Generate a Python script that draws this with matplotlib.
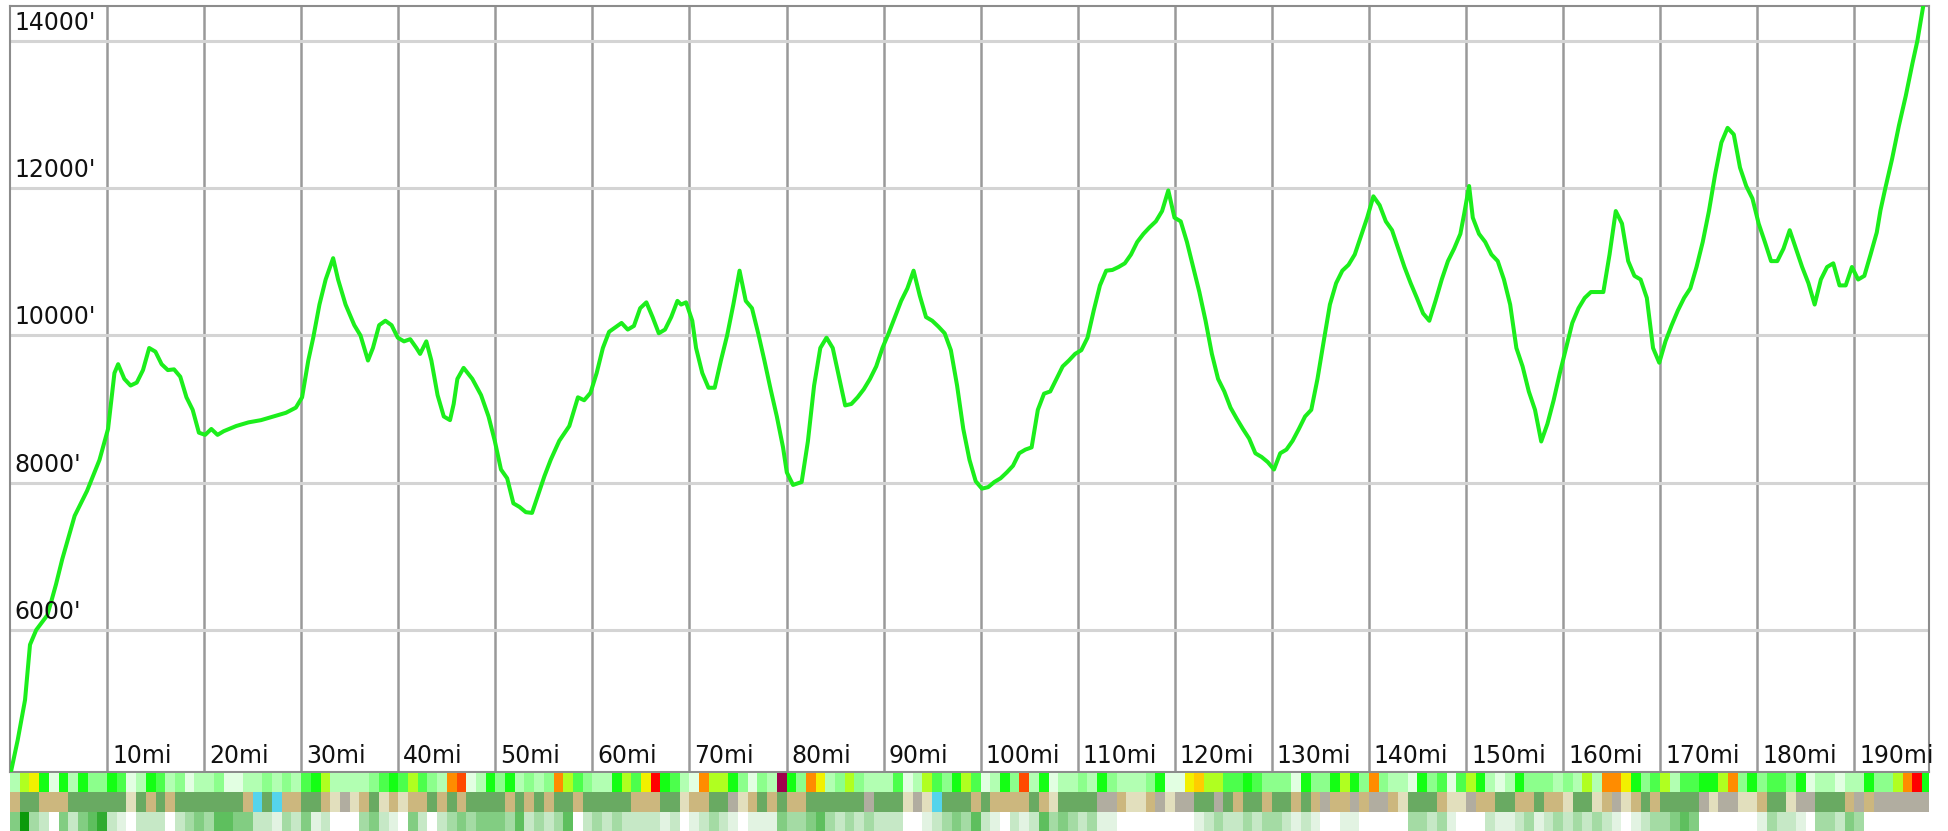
import numpy as np
import matplotlib
matplotlib.use('Agg')
from matplotlib import pyplot as plt
from matplotlib.transforms import offset_copy

# Elevation profile (miles, feet)
miles = [0.1, 0.8, 1.55, 2.06, 2.7, 3.84, 4.3, 4.74, 5.38, 6.66, 7.94, 9.22, 10.1, 10.76, 11.14, 11.78,
         12.42, 13.06, 13.70, 14.34, 14.98, 15.62, 16.26, 16.90, 17.54, 18.18, 18.82, 19.46, 20.10, 20.74,
         21.38, 22.02, 23.30, 24.58, 25.86, 27.14, 28.43, 29.45, 30.09, 30.73, 31.24, 31.88, 32.52, 33.29,
         33.80, 34.57, 35.47, 36.11, 36.88, 37.39, 38.03, 38.67, 39.31, 39.95, 40.59, 41.23, 41.87, 42.25,
         42.89, 43.41, 44.05, 44.69, 45.33, 45.71, 46.09, 46.73, 47.63, 48.53, 49.30, 49.94, 50.58, 51.22,
         51.86, 52.50, 53.14, 53.78, 54.42, 55.06, 55.70, 56.59, 57.62, 58.51, 59.15, 59.80, 60.44, 61.08,
         61.72, 63.00, 63.64, 64.28, 64.92, 65.56, 66.20, 66.84, 67.48, 68.12, 68.76, 69.14, 69.65, 70.29,
         70.68, 71.32, 71.96, 72.60, 73.24, 73.88, 74.52, 75.16, 75.80, 76.44, 77.08, 77.72, 78.36, 79.00,
         79.64, 80.03, 80.67, 81.56, 82.20, 82.84, 83.48, 84.12, 84.76, 85.40, 86.04, 86.68, 87.32, 87.96,
         88.60, 89.24, 89.88, 90.52, 91.16, 91.81, 92.45, 93.09, 93.73, 94.37, 95.01, 95.65, 96.29, 96.93,
         97.57, 98.21, 98.85, 99.49, 100.13, 100.77, 101.41, 102.05, 102.69, 103.33, 103.97, 104.61, 105.25,
         105.89, 106.53, 107.17, 107.81, 108.45, 109.09, 109.73, 110.37, 111.01, 111.65, 112.29, 112.93,
         113.57, 114.21, 114.85, 115.49, 116.13, 116.77, 117.41, 118.05, 118.69, 119.33, 119.97, 120.61,
         121.25, 121.89, 122.53, 123.17, 123.82, 124.46, 125.10, 125.74, 126.38, 127.02, 127.66, 128.30,
         128.94, 129.58, 130.22, 130.86, 131.50, 132.14, 132.78, 133.42, 134.06, 134.70, 135.34, 135.98,
         136.62, 137.26, 137.90, 138.54, 139.18, 139.82, 140.46, 141.10, 141.74, 142.38, 143.02, 143.66,
         144.30, 144.94, 145.58, 146.22, 146.86, 147.50, 148.14, 148.78, 149.42, 149.81, 150.32, 150.70,
         151.34, 151.98, 152.62, 153.27, 153.91, 154.55, 155.19, 155.83, 156.47, 157.11, 157.75, 158.39,
         159.03, 159.67, 160.31, 160.95, 161.59, 162.23, 162.87, 163.51, 164.15, 164.79, 165.43, 166.07,
         166.71, 167.35, 167.99, 168.63, 169.27, 169.91, 170.55, 171.19, 171.83, 172.47, 173.11, 173.75,
         174.39, 175.03, 175.67, 176.31, 176.95, 177.59, 178.23, 178.87, 179.51, 180.15, 180.79, 181.43,
         182.07, 182.71, 183.35, 183.99, 184.63, 185.28, 185.92, 186.56, 187.20, 187.84, 188.48, 189.12,
         189.76, 190.40, 191.04, 191.68, 192.32, 192.70, 193.2, 193.9, 194.6, 195.3, 196.0, 196.5, 197.1]
elev_ft = [4075, 4510, 5050, 5800, 6000, 6200, 6410, 6620, 6960, 7550, 7890, 8310, 8730, 9490, 9610, 9410,
           9320, 9360, 9530, 9830, 9780, 9610, 9530, 9540, 9440, 9160, 8990, 8680, 8650, 8730,
           8650, 8700, 8770, 8820, 8850, 8900, 8950, 9020, 9160, 9660, 9970, 10420, 10760, 11050,
           10760, 10420, 10140, 10000, 9660, 9830, 10140, 10200, 10140, 9970, 9920, 9950, 9830, 9750,
           9920, 9660, 9190, 8900, 8850, 9070, 9410, 9560, 9410, 9190, 8900, 8570, 8180, 8060,
           7720, 7670, 7600, 7590, 7840, 8090, 8310, 8570, 8770, 9160, 9120, 9220, 9490, 9830,
           10050, 10170, 10080, 10130, 10370, 10450, 10250, 10030, 10080, 10250, 10470, 10420, 10450, 10200,
           9830, 9490, 9290, 9290, 9660, 10000, 10420, 10880, 10470, 10370, 10030, 9660, 9270, 8900,
           8480, 8140, 7970, 8010, 8560, 9320, 9830, 9970, 9830, 9440, 9050, 9070, 9160, 9270,
           9410, 9580, 9830, 10030, 10250, 10470, 10640, 10880, 10540, 10250, 10200, 10120, 10030, 9800,
           9320, 8730, 8310, 8020, 7920, 7940, 8010, 8060, 8140, 8230, 8400, 8450, 8480,
           8990, 9210, 9240, 9410, 9580, 9660, 9750, 9800, 9970, 10340, 10680, 10880,
           10890, 10930, 10980, 11100, 11270, 11380, 11470, 11550, 11690, 11970, 11600, 11550,
           11270, 10930, 10590, 10200, 9750, 9410, 9240, 9020, 8870, 8730, 8600, 8400,
           8350, 8280, 8180, 8400, 8450, 8570, 8730, 8900, 8990, 9410, 9920, 10420,
           10710, 10880, 10960, 11100, 11350, 11600, 11890, 11770, 11550, 11430, 11180, 10930,
           10710, 10510, 10300, 10200, 10470, 10760, 11010, 11180, 11380, 11650, 12030, 11600,
           11380, 11270, 11100, 11010, 10760, 10420, 9830, 9580, 9240, 8990, 8560, 8800,
           9120, 9490, 9830, 10170, 10370, 10510, 10590, 10590, 10590, 11100, 11690, 11520,
           11010, 10810, 10760, 10510, 9830, 9630, 9920, 10140, 10340, 10510, 10640, 10930,
           11270, 11690, 12190, 12620, 12820, 12730, 12280, 12030, 11860, 11520, 11270, 11010,
           11010, 11180, 11430, 11180, 10930, 10710, 10420, 10760, 10930, 10980, 10680, 10680,
           10930, 10760, 10810, 11100, 11400, 11700, 12000, 12400, 12850, 13250, 13700, 14000, 14470]

mile_ticks = list(range(10, 200, 10))
ft_ticks = [6000, 8000, 10000, 12000, 14000]

# Colour strips under the chart, one code per mile
grade_codes = ("bfgeaebecc" "edabedbcab" "bcaabbcbcb" "defbbbbcde" "dfdcborabe"
               "cebcbcofdc" "bbefdgRedb" "aoffecacbm" "ecogbcfcbb" "bdabfdcefd"
               "abecrbeabb" "cbecbbbcea" "agyffddedc" "ccaeccefec" "ocbbaecdad"
               "febabecccb" "cbfboogecd" "fbddeefoce" "cddceabbab" "beccfoRe")
surface_codes = ("TGGTTTGGGG" "GGBGTGTGGG" "GGGGTCGCTT" "GGTBSBTGBT" "BTTGTGTGGG"
                 "GTGTGTGGTG" "GGGGTTTGGB" "TTGGSBTGTG" "TTGGGGGGSG" "GGBSBCGGGT"
                 "GTTTTGTBGG" "GGSSTBBTSB" "SSGGSGTGGT" "GGTGTSTTST" "SSTBGGGTBB"
                 "STTGGTTGTT" "BGGBTSBTGT" "GGGGSBSSBB" "TGGBSSGGGT" "STSSSSSS")
cover_codes = ("4732042456" "2102220234" "3554422132" "4120003421" "0420234344"
               "4352323502" "3232222120" "1232101114" "3345323232" "2200123435"
               "2102125343" "2311000000" "0012322323" "3212100110" "0000332310"
               "0021123123" "2323210123" "3454000000" "1322103324" "30000000")

grade_colors = {'a': '#e2ffe2', 'b': '#b2ffb2', 'c': '#8cff8c', 'd': '#4cff4c', 'e': '#14ff14',
                'f': '#b0ff20', 'g': '#f2f000', 'y': '#ffcc00', 'o': '#ff8c00', 'r': '#ff4a00',
                'R': '#ff0000', 'm': '#a0004c'}
surface_colors = {'T': '#ccb77e', 'G': '#69aa62', 'B': '#e2dfbd', 'S': '#b1ada0', 'C': '#55d4ec'}
cover_colors = {'0': '#ffffff', '1': '#e2f3e2', '2': '#c6e8c6', '3': '#a4dba4', '4': '#82cd82',
                '5': '#5ebf5e', '6': '#30ab30', '7': '#0c9a0c'}

W, H = 1948, 831
fig = plt.figure(figsize=(W / 100, H / 100), dpi=100)
ax = fig.add_axes([10 / W, 59 / H, 1919 / W, 766 / H])

ax.plot(miles, elev_ft, color='#1cee1c', lw=2.9, zorder=3, solid_capstyle='round',
        solid_joinstyle='round')
ax.set_xlim(0, 197.7)
ax.set_ylim(4071, 14475)

ax.set_xticks(mile_ticks)
ax.set_yticks(ft_ticks)
ax.grid(axis='x', color='#999999', lw=1.8)
ax.grid(axis='y', color='#d4d4d4', lw=2.2)
ax.tick_params(length=0, labelleft=False, labelbottom=False)
for sp in ax.spines.values():
    sp.set_color('#8c8c8c')
    sp.set_linewidth(1.5)

# labels sit inside the plot area
tr_y = offset_copy(ax.get_yaxis_transform(), fig=fig, x=4, y=6, units='dots')
for t in ft_ticks:
    ax.text(0, t, "%d'" % t, transform=tr_y, fontsize=17, ha='left', va='bottom', color='#111111')
tr_x = offset_copy(ax.get_xaxis_transform(), fig=fig, x=5, y=4, units='dots')
for m in mile_ticks:
    ax.text(m, 0, '%dmi' % m, transform=tr_x, fontsize=17, ha='left', va='bottom', color='#111111',
            clip_on=False)

# three strips
sax = fig.add_axes([10 / W, 0, 1919 / W, 58 / H])
sax.set_xlim(0, 197.7)
sax.set_ylim(0, 3)
sax.axis('off')
rows = [(grade_codes, grade_colors, 2), (surface_codes, surface_colors, 1), (cover_codes, cover_colors, 0)]
for codes, cmap, base in rows:
    xs = np.arange(len(codes))
    cols = [cmap[c] for c in codes]
    sax.bar(xs, 1, width=1.0, bottom=base, align='edge', color=cols, edgecolor='none', linewidth=0)

fig.savefig('out.png', dpi=100, facecolor='white')
